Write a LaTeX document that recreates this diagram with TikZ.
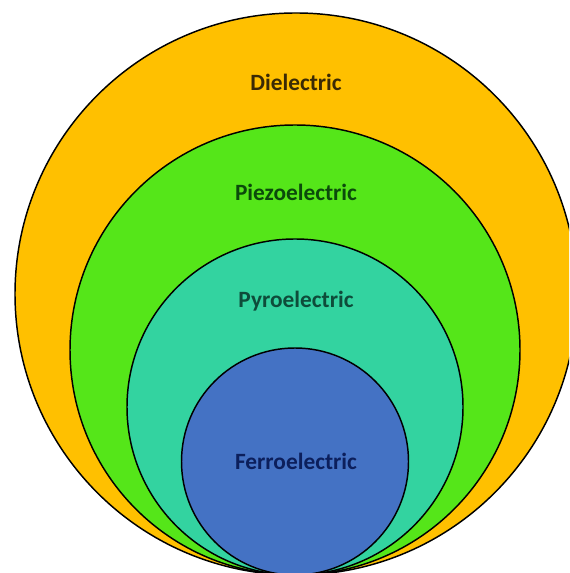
\documentclass[tikz,border=0pt]{standalone}
\usepackage{fontspec}
\setmainfont{Carlito}
\usetikzlibrary{positioning}

\definecolor{dielfill}{HTML}{FFC000}
\definecolor{piezofill}{HTML}{55E619}
\definecolor{pyrofill}{HTML}{33D3A0}
\definecolor{ferrofill}{HTML}{4472C4}
\definecolor{dieltext}{HTML}{3A2A05}
\definecolor{piezotext}{HTML}{0B4A0B}
\definecolor{pyrotext}{HTML}{0E4C3A}
\definecolor{ferrotext}{HTML}{0C1F5C}

\begin{document}
\begin{tikzpicture}[
    x=0.75pt, y=0.75pt,
    ring/.style={draw=black, line width=1.1pt},
    label/.style={font=\fontsize{17.5}{20}\selectfont\bfseries, inner sep=0pt, anchor=center}
]
    \useasboundingbox (0,0) rectangle (569,573);
    \clip (0,0) rectangle (569,573);

    % nested classes, all touching at the bottom
    \filldraw[ring, fill=dielfill] (296,279) circle (281);
    \filldraw[ring, fill=piezofill] (295,223) circle (225);
    \filldraw[ring, fill=pyrofill] (295,166) circle (168);
    \filldraw[ring, fill=ferrofill] (295,111.5) circle (113.5);

    \node[label, text=dieltext] (diel) at (296,491) {Dielectric};
    \node[label, text=piezotext] (piezo) at (296,381) {Piezoelectric};
    \node[label, text=pyrotext] (pyro) at (296,272) {Pyroelectric};
    \node[label, text=ferrotext] (ferro) at (296,112) {Ferroelectric};
\end{tikzpicture}
\end{document}
